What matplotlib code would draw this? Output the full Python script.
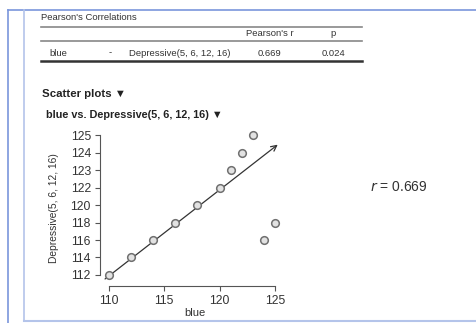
import numpy as np
import matplotlib
matplotlib.use('Agg')
import matplotlib.pyplot as plt
from matplotlib.lines import Line2D

# values
blue = [110, 112, 114, 116, 118, 120, 121, 122, 123, 124, 125]
depressive = [112, 114, 116, 118, 120, 122, 123, 124, 125, 116, 118]
xticks = [110, 115, 120, 125]
yticks = [112, 114, 116, 118, 120, 122, 123, 124, 125]
pearson_r = 0.669
p_value = 0.024

W, H = 476, 323
plt.rcParams['font.family'] = ['Liberation Sans', 'DejaVu Sans']

fig = plt.figure(figsize=(W / 100, H / 100), dpi=100)


def px(x, y):
    # pixel position -> figure fraction
    return x / W, 1 - y / H


def hline(x0, x1, y, **kw):
    fig.add_artist(Line2D([x0 / W, x1 / W], [1 - y / H, 1 - y / H], transform=fig.transFigure, **kw))


def vline(x, y0, y1, **kw):
    fig.add_artist(Line2D([x / W, x / W], [1 - y0 / H, 1 - y1 / H], transform=fig.transFigure, **kw))


# page frame
hline(8, W, 10, color='#7a96dc', lw=1.2)
vline(8, 10, H, color='#7a96dc', lw=1.2)
vline(24, 10, 321, color='#b4c4ea', lw=1.2)
hline(24, W, 321, color='#b4c4ea', lw=1.5)

# correlation table
tc = '#333333'
fig.text(*px(41, 17), "Pearson's Correlations", fontsize=6.8, color=tc, va='center')
hline(41, 362, 27, color='#888888', lw=1.2)
fig.text(*px(270, 34), "Pearson's r", fontsize=6.8, color=tc, va='center', ha='center')
fig.text(*px(333, 34), "p", fontsize=6.8, color=tc, va='center', ha='center')
hline(41, 362, 41, color='#888888', lw=1.2)
fig.text(*px(49, 53), "blue", fontsize=6.8, color=tc, va='center')
fig.text(*px(110, 53), "-", fontsize=6.8, color=tc, va='center', ha='center')
fig.text(*px(129, 53), "Depressive(5, 6, 12, 16)", fontsize=6.8, color=tc, va='center')
fig.text(*px(270, 53), f"{pearson_r:.3f}", fontsize=6.8, color=tc, va='center', ha='center')
fig.text(*px(333, 53), f"{p_value:.3f}", fontsize=6.8, color=tc, va='center', ha='center')
hline(41, 362, 61, color='#333333', lw=1.8)

fig.text(*px(42, 94), "Scatter plots \u25bc", fontsize=8.2, weight='bold', color='#222222', va='center',
         family=['Liberation Sans', 'DejaVu Sans'])
fig.text(*px(46, 115), "blue vs. Depressive(5, 6, 12, 16) \u25bc", fontsize=7.8, weight='bold', color='#222222',
         va='center', family=['Liberation Sans', 'DejaVu Sans'])

# y axis: the ticks are equally spaced although the values are not
yt = np.array(yticks, float)
idx = np.arange(len(yt), dtype=float)


def fwd(v):
    v = np.atleast_1d(np.asarray(v, float))
    out = np.interp(v, yt, idx)
    lo = v < yt[0]
    out[lo] = (v[lo] - yt[0]) / (yt[1] - yt[0])
    hi = v > yt[-1]
    out[hi] = idx[-1] + (v[hi] - yt[-1]) / (yt[-1] - yt[-2])
    return out


def inv(u):
    u = np.atleast_1d(np.asarray(u, float))
    out = np.interp(u, idx, yt)
    lo = u < idx[0]
    out[lo] = yt[0] + u[lo] * (yt[1] - yt[0])
    hi = u > idx[-1]
    out[hi] = yt[-1] + (u[hi] - idx[-1]) * (yt[-1] - yt[-2])
    return out


ax = fig.add_axes([100 / W, 37 / H, 190 / W, 156 / H])
ax.set_yscale('function', functions=(fwd, inv))
ax.set_xlim(109.19, 126.36)
ax.set_ylim(110.74, 125.29)

ax.annotate('', xy=(125.45, 124.55), xytext=(109.45, 111.35),
            arrowprops=dict(arrowstyle='->', color='#333333', lw=0.9, mutation_scale=10))
ax.plot(blue, depressive, 'o', ms=5.5, mfc='#e2e2e2', mec='#707070', mew=1.1, ls='none', zorder=3)

ax.set_xticks(xticks)
ax.set_yticks(yticks)
ax.set_yticklabels([str(v) for v in yticks])
ax.spines['top'].set_visible(False)
ax.spines['right'].set_visible(False)
ax.spines['left'].set_bounds(yticks[0], yticks[-1])
ax.spines['bottom'].set_bounds(xticks[0], xticks[-1])
for s in ('left', 'bottom'):
    ax.spines[s].set_color('#555555')
    ax.spines[s].set_linewidth(0.8)
ax.tick_params(length=3.5, width=0.8, color='#555555', labelsize=8.8, labelcolor='#333333', pad=3)
ax.set_xlabel('blue', fontsize=8, color='#333333', labelpad=1)
ax.set_ylabel('Depressive(5, 6, 12, 16)', fontsize=7.4, color='#333333', labelpad=8)
ax.patch.set_visible(False)

fig.text(*px(370, 187), f"$r$ = {pearson_r:.3f}", fontsize=10, color='#333333', va='center')

fig.savefig('out.png', dpi=100)
